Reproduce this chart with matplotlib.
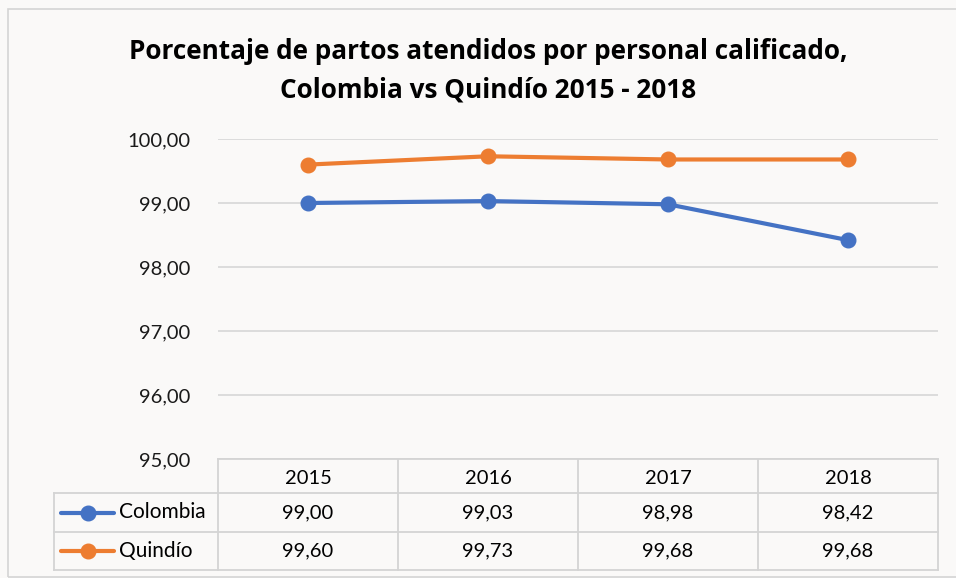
import matplotlib
matplotlib.use("Agg")
import matplotlib.pyplot as plt
from matplotlib.lines import Line2D

years = ["2015", "2016", "2017", "2018"]
colombia = [99.00, 99.03, 98.98, 98.42]
quindio = [99.60, 99.73, 99.68, 99.68]
series_names = ["Colombia", "Quindío"]
yticks = [95, 96, 97, 98, 99, 100]
title_lines = ["Porcentaje de partos atendidos por personal calificado,",
               "Colombia vs Quindío 2015 - 2018"]

W, H = 956, 578
BG = "#faf9f8"
GRID = "#d9d9d9"
colors = ["#4472C4", "#ED7D31"]
font = "Lato"
fs = 14.5

fig = plt.figure(figsize=(W / 100, H / 100), dpi=100, facecolor=BG)

def fx(px):
    return px / W

def fy(py):
    return 1 - py / H

# chart frame border
fig.patches.append(plt.Rectangle((fx(8), fy(577)), fx(1000), fy(9) - fy(577),
                                 transform=fig.transFigure, fill=False,
                                 edgecolor="#d4d4d4", lw=1.2, zorder=0))

ax_l, ax_r, ax_t, ax_b = 218, 938, 139, 459
ax = fig.add_axes([fx(ax_l), fy(ax_b), fx(ax_r - ax_l), fy(ax_t) - fy(ax_b)])
ax.set_facecolor("none")
x = list(range(len(years)))
ax.set_xlim(-0.5, len(years) - 0.5)
ax.set_ylim(95, 100)
ax.set_yticks(yticks)
ax.set_yticklabels([f"{v:.2f}".replace(".", ",") for v in yticks],
                   fontsize=fs, family=font, color="#1a1a1a")
ax.tick_params(axis="y", length=0, pad=20)
ax.set_xticks([])
for s in ax.spines.values():
    s.set_visible(False)
ax.grid(axis="y", color=GRID, lw=1.3)
ax.set_axisbelow(True)

data = [colombia, quindio]
for vals, c in zip(data, colors):
    ax.plot(x, vals, color=c, lw=3, marker="o", markersize=10.5, zorder=3, clip_on=False)

for line, yb in zip(title_lines, [59, 97]):
    fig.text(fx(488), fy(yb), line, ha="center", va="baseline", fontsize=18.8,
             fontweight="bold", family="Open Sans", color="black")

# data table
col_edges = [218, 398, 578, 758, 938]
row_edges = [459, 493, 532, 570]
leg_left = 54
tc = "#d4d4d4"
def hline(y, x0, x1):
    fig.add_artist(Line2D([fx(x0), fx(x1)], [fy(y), fy(y)], transform=fig.transFigure,
                          color=tc, lw=1.3))
def vline(xp, y0, y1):
    fig.add_artist(Line2D([fx(xp), fx(xp)], [fy(y0), fy(y1)], transform=fig.transFigure,
                          color=tc, lw=1.3))

hline(row_edges[0], col_edges[0], col_edges[-1])
for r in row_edges[1:]:
    hline(r, leg_left, col_edges[-1])
for c in col_edges:
    vline(c, row_edges[0], row_edges[-1])
vline(leg_left, row_edges[1], row_edges[-1])

for i, yr in enumerate(years):
    cx = (col_edges[i] + col_edges[i + 1]) / 2
    cy = (row_edges[0] + row_edges[1]) / 2 + 2
    fig.text(fx(cx), fy(cy), yr, ha="center", va="center", fontsize=fs, family=font)

for r, (name, vals, c) in enumerate(zip(series_names, data, colors)):
    cy = (row_edges[r + 1] + row_edges[r + 2]) / 2
    fig.add_artist(Line2D([fx(61), fx(114)], [fy(cy), fy(cy)], transform=fig.transFigure,
                          color=c, lw=3, solid_capstyle="round"))
    fig.add_artist(Line2D([fx(87.5)], [fy(cy)], transform=fig.transFigure,
                          color=c, marker="o", markersize=10.5))
    fig.text(fx(119), fy(cy), name, ha="left", va="center", fontsize=fs + 0.5, family=font)
    for i, v in enumerate(vals):
        cx = (col_edges[i] + col_edges[i + 1]) / 2
        fig.text(fx(cx), fy(cy), f"{v:.2f}".replace(".", ","), ha="center", va="center",
                 fontsize=fs, family=font)

fig.savefig("out.png", dpi=100, facecolor=BG)
